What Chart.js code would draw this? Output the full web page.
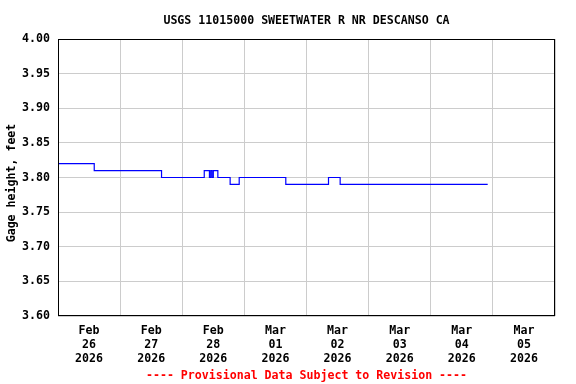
<!DOCTYPE html>
<html>
<head>
<meta charset="utf-8">
<script src="https://cdn.jsdelivr.net/npm/chart.js@4"></script>
<style>
    html, body { margin: 0; padding: 0; background: #ffffff; }
    #wrap { width: 576px; height: 384px; }
</style>
</head>
<body>
<div id="wrap"><canvas id="myChart" width="576" height="384"></canvas></div>
<script>
// gage height readings, value holds from its time onward (UTC used as local clock)
const stampTimes = [
    '2026-02-26T00:00', '2026-02-26T14:00', '2026-02-27T16:00',
    '2026-02-28T08:30', '2026-02-28T10:30', '2026-02-28T11:00',
    '2026-02-28T11:30', '2026-02-28T12:00', '2026-02-28T13:45',
    '2026-02-28T18:30', '2026-02-28T22:00', '2026-03-01T16:00',
    '2026-03-02T08:30', '2026-03-02T13:00', '2026-03-04T22:00'
];
const gageValues = [
    3.82, 3.81, 3.80,
    3.81, 3.80, 3.81,
    3.80, 3.81, 3.80,
    3.79, 3.80, 3.79,
    3.80, 3.79, 3.79
];
const dayLabels = [
    ['Feb', '26', '2026'], ['Feb', '27', '2026'], ['Feb', '28', '2026'],
    ['Mar', '01', '2026'], ['Mar', '02', '2026'], ['Mar', '03', '2026'],
    ['Mar', '04', '2026'], ['Mar', '05', '2026']
];
const yMin = 3.60;
const yMax = 4.00;
const yStep = 0.05;

const chartTitle = 'USGS 11015000 SWEETWATER R NR DESCANSO CA';
const yTitle = 'Gage height, feet';
const footNote = '---- Provisional Data Subject to Revision ----';

const DAY = 86400000;
const FONT = "'DejaVu Sans Mono', monospace";

function toMs(s) {
    return Date.parse(s + ':00Z');
}

const xStart = toMs('2026-02-26T00:00');
const xEnd = xStart + dayLabels.length * DAY;

window.addEventListener('load', function() {
    drawChart();
});

function drawChart() {
    var points = [];
    for (var i = 0; i < stampTimes.length; i++) {
        points.push({ x: toMs(stampTimes[i]), y: gageValues[i] });
    }

    const textPlugin = {
        id: 'usgsText',
        afterDraw(chart) {
            const ctx = chart.ctx;
            const area = chart.chartArea;
            ctx.save();
            // plot frame
            ctx.strokeStyle = '#000000';
            ctx.lineWidth = 1;
            ctx.strokeRect(Math.round(area.left) + 0.5, Math.round(area.top) + 0.5,
                Math.round(area.right - area.left) - 1, Math.round(area.bottom - area.top) - 1);

            ctx.textAlign = 'center';
            ctx.textBaseline = 'middle';
            ctx.font = 'bold 11.6px ' + FONT;
            ctx.fillStyle = '#000000';
            ctx.fillText(chartTitle, (area.left + area.right) / 2, 20.5);

            ctx.fillStyle = '#ff0000';
            ctx.fillText(footNote, (area.left + area.right) / 2, 375.5);

            ctx.fillStyle = '#000000';
            ctx.translate(12, 183);
            ctx.rotate(-Math.PI / 2);
            ctx.fillText(yTitle, 0, 0);
            ctx.restore();
        }
    };

    const ctx = document.getElementById('myChart');
    new Chart(ctx, {
        type: 'line',
        data: {
            datasets: [{
                label: yTitle,
                data: points,
                borderColor: '#0000ff',
                borderWidth: 1.2,
                pointRadius: 0,
                stepped: true,
                fill: false
            }]
        },
        options: {
            responsive: false,
            animation: false,
            layout: {
                padding: { top: 39, right: 21, bottom: 0, left: 0 }
            },
            plugins: {
                legend: { display: false },
                tooltip: { enabled: false }
            },
            scales: {
                x: {
                    type: 'linear',
                    min: xStart,
                    max: xEnd,
                    afterBuildTicks: function(scale) {
                        scale.ticks = dayLabels.map(function(d, i) {
                            return { value: xStart + i * DAY + DAY / 2 };
                        });
                    },
                    afterFit: function(scale) {
                        scale.height = 68;
                    },
                    grid: {
                        offset: true,
                        color: '#cccccc',
                        lineWidth: 1,
                        drawTicks: false
                    },
                    border: { display: false },
                    ticks: {
                        autoSkip: false,
                        maxRotation: 0,
                        padding: 8,
                        color: '#000000',
                        font: { family: FONT, size: 11.6, weight: 'bold', lineHeight: 1.22 },
                        callback: function(value) {
                            var idx = Math.round((value - xStart - DAY / 2) / DAY);
                            return dayLabels[idx] || '';
                        }
                    }
                },
                y: {
                    min: yMin,
                    max: yMax,
                    afterFit: function(scale) {
                        scale.width = 58;
                    },
                    grid: {
                        color: '#cccccc',
                        lineWidth: 1,
                        drawTicks: false
                    },
                    border: { display: false },
                    ticks: {
                        stepSize: yStep,
                        padding: 8,
                        color: '#000000',
                        font: { family: FONT, size: 11.6, weight: 'bold' },
                        callback: function(value) {
                            return value.toFixed(2);
                        }
                    }
                }
            }
        },
        plugins: [textPlugin]
    });
}
</script>
</body>
</html>
